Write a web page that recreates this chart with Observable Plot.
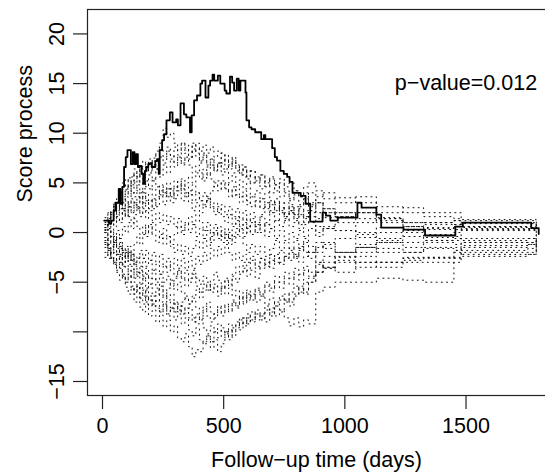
<!DOCTYPE html>
<html>
<head>
<meta charset="utf-8">
<script src="https://cdn.jsdelivr.net/npm/d3@7"></script>
<script src="https://cdn.jsdelivr.net/npm/@observablehq/plot@0.6"></script>
<style>
  body { margin: 0; background: white; }
</style>
</head>
<body>
<div id="chart"></div>
<script>
// Observed score process (step function)
const obsTimes = [7, 27, 36, 46, 53, 67, 74, 82, 89, 96, 103, 117, 125, 132, 139, 146, 153, 161, 168, 175, 182, 189, 196, 203, 218, 225, 232, 236, 246, 254, 264, 278, 289, 304, 311, 322, 336, 346, 361, 368, 378, 390, 404, 411, 425, 437, 444, 454, 461, 476, 486, 504, 511, 526, 535, 543, 554, 562, 569, 590, 594, 605, 615, 630, 655, 666, 672, 700, 711, 720, 734, 748, 762, 772, 784, 818, 838, 857, 908, 922, 940, 971, 1052, 1069, 1130, 1150, 1242, 1331, 1456, 1487, 1769, 1800];
const obsValues = [1.2, 0.9, 1.2, 2.2, 3.0, 4.4, 2.9, 4.6, 6.6, 7.6, 8.3, 6.9, 8.1, 6.9, 7.9, 6.6, 6.7, 5.9, 4.9, 6.2, 6.6, 6.9, 7.0, 6.6, 7.2, 7.4, 5.9, 8.3, 9.3, 9.9, 11.3, 12.1, 11.1, 11.4, 10.8, 13.0, 11.9, 11.6, 10.1, 11.8, 13.3, 13.8, 15.0, 15.3, 13.6, 14.8, 15.3, 15.9, 15.3, 15.8, 15.0, 14.3, 14.0, 15.7, 15.1, 14.3, 15.5, 14.3, 15.3, 14.1, 11.3, 10.6, 10.4, 10.1, 9.4, 9.8, 9.4, 8.5, 7.6, 7.25, 6.2, 5.9, 5.6, 5.1, 4.0, 3.7, 2.9, 1.1, 2.0, 1.7, 1.2, 1.5, 3.0, 2.5, 1.8, 0.5, 0.3, -0.3, 0.6, 1.0, 0.45, -0.15];

// Simulated score processes (dotted), on a common time grid
const simTimes = [10, 22, 34, 46, 58, 70, 82, 94, 106, 118, 130, 142, 154, 166, 178, 190, 205, 220, 235, 250, 265, 280, 295, 310, 325, 340, 355, 370, 385, 400, 415, 430, 445, 460, 475, 490, 505, 520, 535, 550, 565, 580, 595, 610, 630, 650, 670, 690, 710, 730, 750, 770, 790, 810, 830, 850, 880, 910, 960, 1045, 1130, 1240, 1325, 1450, 1480, 1755, 1790];
const simA = [0.5,1.2,2,3,2.2,4,5,4.3,5.5,4.8, 6,5.2,6.5,5.8,7,6.2,7.5,8.2,9,10.5, 9.6,10,9,8.2,9,8.5,7.6,9,8,7.2, 8,6.8,7.4,6.5,7,5.8,6.4,5,6,4.6, 5.3,4.4,5,3.6,4.2,3.4,4,2.8,3.4,2.5, 3,2.2,2.6,1.6,2.2,2.8,2,1.5,2,1, 1.4,0.6,1,1.2,0.6,0.4,0.2];
const simB = [-1,-1.8,-2.5,-3,-4,-4.8,-4.2,-5.5,-6.2,-5.6, -7,-6.4,-7.5,-8,-7.2,-8.4,-7.8,-9,-8.3,-9.5, -8.8,-10,-9.4,-10.6,-11,-10.2,-11.5,-12.5,-11.8,-12, -11,-10.4,-11.6,-10.8,-12,-11.2,-10,-10.8,-9.6,-9, -9.8,-8.6,-9.2,-8,-8.8,-8.2,-9,-7.6,-8.4,-7.8, -8.6,-9.4,-8.6,-9.5,-8.8,-9.2,-6,-5.5,-5,-5, -4.6,-4.8,-5,-1.8,-1.5,-1.2,-0.8];
const simC = [0,0.8,1.6,2.4,3,2.4,3.6,4.4,3.8,5, 5.8,5,6.4,5.6,6.8,6,7.2,6.4,7.6,7, 8.2,7.4,8.6,7.8,9,8.2,8.8,7.6,8.4,7, 7.8,6.6,7.4,6.2,7,8,7.2,6.4,7.4,6.6, 5.8,6.6,5.4,6.2,5,5.8,4.6,5.4,4.2,5, 4,3.4,4.2,3.6,4.6,5,4.2,3.4,3,3.6, 2.6,2,1.6,1.4,1.3,1.3,0.5];
const simD = [-2,-2.6,-2,-3.2,-3.8,-3,-4.4,-5,-4.2,-5.6, -6.2,-5.4,-6.6,-5.8,-7,-6.4,-7.2,-6.2,-5.4,-6.4, -5.6,-4.8,-5.8,-5,-6,-6.6,-7.2,-6.6,-7.6,-8.2, -7.4,-8.4,-9,-8.2,-7.4,-8,-7.2,-7.8,-6.8,-7.4, -6.4,-7,-5.8,-6.4,-5.6,-6.2,-5,-5.6,-4.4,-5, -4,-4.6,-3.6,-4.2,-3.4,-4,-3.2,-3.6,-2.8,-2.4, -3,-2.8,-2.6,-2.6,-2.4,-2.2,-1];
const simE = [1,0.4,1.2,0.6,1.6,1,2.2,1.6,2.8,2, 3,2.4,3.6,2.8,4,3.2,4.4,3.6,4.8,4, 5,4.2,3.4,4.2,3.2,4,3,2.2,3,2, 2.8,3.6,2.6,1.8,2.6,1.6,1,1.8,0.8,1.6, 0.6,1.4,0.4,1,0,0.8,-0.4,0.4,-0.6,0.2, -0.8,0,-0.6,0.2,-0.4,0.4,-0.4,0.4,0.2,-0.2, -0.6,0.2,-0.2,0,0.3,0.3,0];
const simF = [-0.5,-1.2,-0.8,-2,-2.8,-2.2,-3.4,-2.8,-4,-3.4, -4.6,-4,-5.2,-4.6,-5.8,-5.2,-6.4,-5.8,-7,-6.4, -7.6,-7,-8,-7.2,-8.2,-7.6,-8.6,-9,-8.2,-8.8, -7.8,-7,-8,-8.6,-7.6,-8.4,-7.4,-8,-7,-7.6, -6.6,-7.2,-6.2,-6.8,-5.8,-6.4,-5.4,-6,-5,-5.6, -4.6,-5.2,-4.2,-4.8,-3.8,-4.4,-3,-3.6,-2.4,-2, -1.6,-2,-1.6,-1.8,-1.8,-1.6,-0.8];
const simG = [1.5,2,1.2,2.4,1.8,3,2.4,3.6,3,4.2, 3.6,4.8,4,5.4,4.6,5.8,5.2,6.4,5.6,6.8, 6,7.2,6.6,7.6,7,8,7.4,8.4,9,8.2, 8.8,8,8.6,7.6,8.2,7,7.8,6.6,7.2,6.2, 6.8,5.6,6.2,5,5.6,4.4,5.2,4,4.8,3.6, 4.2,3.2,3.8,2.8,3.4,2.6,3,2,1.6,2, 1.2,0.6,0.3,0.8,0.9,0.9,0.3];
const simH = [0.2,-0.6,0.2,-0.8,-1.6,-1,-2,-1.4,-2.6,-2, -3,-2.4,-3.4,-2.6,-1.8,-2.8,-2,-3,-2.2,-3.4, -2.6,-3.6,-4.4,-3.6,-4.6,-3.8,-5,-4.2,-5.4,-6, -5.2,-5.8,-4.8,-4,-4.8,-5.6,-4.6,-5.2,-4.2,-3.4, -4,-3,-3.8,-2.8,-3.6,-2.6,-3.2,-2.2,-3,-2, -2.6,-1.6,-2.4,-1.4,-2,-2.6,-1,-1.6,-2,-1.5, -1,-1.5,-1,-1.2,-1,-1,-0.5];
const simI = [-1.5,-0.6,0.2,1,1.8,1.2,2.2,1.6,2.6,2, 3,2.4,1.6,2.4,1.4,2.2,1.2,2,1,1.8, 0.8,1.6,0.6,1.4,0.2,1,0,0.8,-0.4,0.4, -0.6,0.2,-1,-0.2,0.6,-0.4,0.4,-0.6,0.6,1.2, 0.2,1,0,1.4,0.6,1.6,0.8,2,1.2,2.4, 1.6,2.6,1.8,2.4,1.6,2.2,1.4,2.4,1.6,2, 1.4,1,0.8,0.6,0.5,0.5,0.2];
const simJ = [0,-0.8,-1.6,-1,-2.2,-3,-2.4,-3.6,-4.4,-3.8, -5,-5.8,-5.2,-6.4,-5.6,-6.8,-7.4,-6.8,-8,-7.2, -8.4,-7.6,-8.8,-8.2,-9.2,-8.6,-9.8,-10.4,-9.6,-10.8, -11.2,-10.4,-11,-10,-10.6,-9.6,-10.2,-9.2,-10,-9.4, -8.6,-9.2,-8.2,-8.8,-7.8,-8.4,-7.4,-8,-7,-6.4, -7,-6,-5.4,-6,-5,-4.6,-4,-3,-2.5,-3, -3,-2.6,-2.5,-2.5,-2,-2,-1];
const simK = [0.8,1.4,2,2.8,2.2,3,2.4,3.2,2.6,3.4, 2.8,3.6,3,4,3.2,2.4,3.4,2.6,3.6,2.8, 3.8,3,4.2,4.8,4.2,5,5.6,5,6,5.4, 6.4,5.8,6.8,6.2,7,6.4,7.4,6.8,7.6,6.8, 6,6.6,5.6,6.2,5.2,5.8,5,5.6,4.8,5.4, 4.6,5,4.2,3.6,4,3,3.6,4,3.5,3, 2,2.5,2,2,1,1,0.4];
const simL = [-0.5,0.3,-0.4,-1.2,-2,-1.4,-2.4,-1.8,-2.8,-2.2, -3.2,-4,-3.4,-4.4,-3.6,-4.6,-3.8,-5,-4.2,-3.4, -4,-3.2,-2.6,-3.4,-2.6,-3.6,-2.8,-3.6,-2.4,-3.2, -2,-2.8,-1.6,-2.4,-1.4,-2.2,-1.2,-2,-2.8,-2, -2.8,-2.2,-3,-2.4,-3.4,-2.6,-3.4,-2.8,-2.2,-3, -2.4,-2.8,-2.2,-3,-2.4,-2,-3,-2.4,-2,-1.5, -2,-2,-1.5,-1.5,-1.3,-1.2,-0.6];
const simM = [0,0.8,0,-0.8,0.2,-0.6,0.6,0,1,0.4, 1.4,0.6,-0.2,0.6,-0.4,0.8,-0.2,-1,-0.2,-1.2, -0.4,-1.4,-2,-1.2,-2.2,-1.4,-2.4,-1.6,-0.8,-1.6, -0.6,-1.4,-0.4,0.2,-0.6,0.2,-0.8,0,-1,-0.2, 0.4,-0.4,0.6,-0.2,0.8,0,1,0.4,1.2,0.6, 1.4,0.6,1,0.4,0.8,1,0,0.6,0.2,-0.5, 0,0.3,-0.5,-0.4,0.2,0.2,0];
const simN = [-2.5,-1.8,-2.6,-3.2,-2.6,-3.6,-4.4,-5,-4.4,-5.4, -6,-5.4,-6.6,-7.2,-6.4,-7.4,-6.8,-7.6,-8,-7.2, -8.2,-7.6,-7,-7.8,-7,-6.4,-7.2,-6.4,-5.8,-6.6, -5.8,-5.2,-6,-5.4,-6.4,-5.6,-4.8,-5.4,-4.4,-5, -4.2,-3.6,-4.4,-3.8,-4.6,-3.6,-3,-3.6,-2.6,-3.2, -2.4,-2,-2.6,-1.8,-1,-2,-1.5,-1,-2,-1.5, -1,-1,-0.8,-0.8,-0.6,-0.6,-0.3];
const simO = [0.5,1.4,2.2,1.4,3,3.8,4.6,5.4,4.6,5.6, 6.4,5.6,6.6,7.2,6.4,7.4,6.8,7.8,8.4,7.6, 8.6,7.8,7,7.6,6.8,7.6,6.8,6,6.8,6, 5.2,6,5.4,4.6,5.2,4.4,5,4.2,3.6,4.4, 3.6,4.2,3.2,2.6,3.2,2.4,3,2.2,2.8,2, 1.2,2,1.4,0.8,1.4,1.6,0.6,0.4,1,0, 0.5,0,0.5,0.3,0.4,0.4,0.1];
const simP = [-1,-1.6,-2,-1.2,-0.4,-1,-1.8,-2.6,-2,-2.8, -3.4,-2.6,-1.8,-2.6,-3.4,-2.8,-3.8,-3.2,-4.2,-5, -4.4,-5.4,-4.6,-3.8,-4.6,-5.4,-4.6,-3.8,-4.6,-5.2, -4.4,-5,-5.8,-5.2,-6,-5.4,-6.2,-5.6,-6.4,-5.8, -6.6,-6,-6.8,-6.2,-7,-6.4,-7.2,-6.6,-7.4,-6.8, -6.2,-7,-6.2,-5.4,-6,-5,-4,-3.5,-3,-3.5, -3,-2.5,-2.5,-2,-2.2,-2.2,-1];
const simQ = [0.3,1,1.8,2.6,3.4,2.6,1.8,2.6,1.6,1, 1.8,2.6,2,3,2.2,3.2,2.4,3.4,4.2,3.6, 4.4,3.6,4.6,5.2,4.4,3.6,4.2,3.2,4,3.2, 2.6,3.4,2.4,3,2,2.8,1.8,2.6,1.6,2.4, 1.4,2.2,1.2,2,1,1.8,2.6,2,3,2.2, 1.6,2.2,1.2,1.8,1,2,3,2,1.5,2, 1.5,1,1,1.2,1.2,1.2,0.4];
const simR = [-0.8,-1.6,-2.4,-3,-2.2,-1.6,-2.6,-2,-3.2,-2.6, -3.8,-4.4,-3.8,-4.8,-4.2,-5.2,-4.6,-5.6,-5,-6, -6.8,-6.2,-7.2,-8,-7.4,-8.2,-7.6,-8.6,-9.2,-8.6, -9.6,-10.2,-9.4,-10,-9.2,-10,-10.6,-9.8,-10.4,-9.6, -8.8,-9.4,-8.6,-9,-8.2,-8.8,-7.8,-8.4,-7.4,-8, -6.8,-7.4,-6.4,-5.6,-6.2,-5,-4,-3.5,-4,-3, -3.5,-3,-3,-3,-1,-1,-0.5];
const simS = [-1.2,-2.2,-1.4,-0.4,-1.4,-2.4,-3.2,-2.4,-1.4,-2.2, -1.2,-0.4,-1.2,-0.2,0.8,0,1,0.2,-0.6,0.4, -0.4,-1.2,-0.2,0.6,-0.2,0.8,1.6,0.8,1.8,1, 0.2,1,0,0.8,-0.2,-1,-0.2,-1.2,-0.4,0.4, -0.4,-1.2,-2,-1.2,-2.2,-1.4,-2.4,-1.6,-0.8,-1.8, -1,-1.8,-0.8,-1.6,-0.6,-1.4,-2,-1.2,-0.6,-1.2, -0.8,-0.4,-0.8,-0.6,-0.8,-0.6,-0.2];
const simT = [1.2,2,1.2,2,3,3.8,3,4,4.8,4, 5,4.2,3.4,4.4,5.2,4.4,5.4,4.6,3.8,4.6, 3.6,4.4,5.2,4.4,5.4,4.6,3.8,4.8,4,3.2, 4,3.2,4.2,5,4.2,5.2,4.4,3.6,4.6,3.8, 3,3.8,2.8,3.6,2.6,3.4,2.4,3.2,2.2,3, 2,2.8,1.8,2.6,3.4,4,3,2.4,2,1.4, 1,0.6,0.4,0.8,0.6,0.6,0.2];
const sims = [simA, simB, simC, simD, simE, simF, simG, simH, simI, simJ, simK, simL, simM, simN, simO, simP, simQ, simR, simS, simT];

// Axis ticks and labels
const xTicks = [0, 500, 1000, 1500];
const yTicks = [20, 15, 10, 5, 0, -5, -10, -15];
const yLabelTicks = [20, 15, 10, 5, 0, -5, -15];
const pValueText = "p\u2212value=0.012";
const pValuePos = [1500, 15];
const xTitle = "Follow\u2212up time (days)";
const yTitle = "Score process";

const simRows = sims.flatMap((s, i) => s.map((v, j) => ({t: simTimes[j], v, id: i})));
const obsRows = obsTimes.map((t, i) => ({t, v: obsValues[i]}));
const minusFmt = d => String(d).replace("-", "\u2212");

const FONT = "Liberation Sans, Arial, Helvetica, sans-serif";
const FS = 21.5;

const plot = Plot.plot({
  width: 545,
  height: 473,
  marginLeft: 87,
  marginRight: -8,
  marginTop: 9,
  marginBottom: 78,
  style: {fontFamily: FONT, fontSize: FS + "px", background: "white", color: "black"},
  x: {domain: [-61.9, 1861], axis: null},
  y: {domain: [-16.41, 22.46], axis: null},
  marks: [
    Plot.line(simRows, {x: "t", y: "v", z: "id", curve: "step-after", stroke: "#111", strokeWidth: 1, strokeDasharray: "1 4.2"}),
    Plot.line(obsRows, {x: "t", y: "v", curve: "step-after", stroke: "black", strokeWidth: 1.8}),
    Plot.text([pValueText], {x: () => pValuePos[0], y: () => pValuePos[1], text: d => d, fontSize: FS, textAnchor: "middle"}),
    Plot.frame({stroke: "#222", strokeWidth: 1.2}),
    Plot.axisX({ticks: xTicks, tickSize: 14, tickPadding: 8, fontSize: FS, stroke: "#222", strokeWidth: 1.2, tickFormat: d => String(d), label: null}),
    Plot.axisY({ticks: yTicks, tickSize: 14, tickFormat: () => "", stroke: "#222", strokeWidth: 1.2, label: null}),
    Plot.text(yLabelTicks, {y: d => d, text: minusFmt, frameAnchor: "left", dx: -30.3, rotate: -90, fontSize: FS, textAnchor: "middle"}),
    Plot.text([xTitle], {text: d => d, frameAnchor: "bottom", dy: 71, dx: -4, fontSize: FS}),
    Plot.text([yTitle], {text: d => d, frameAnchor: "left", dx: -62, rotate: -90, fontSize: FS})
  ]
});
document.getElementById("chart").appendChild(plot);
</script>
</body>
</html>
